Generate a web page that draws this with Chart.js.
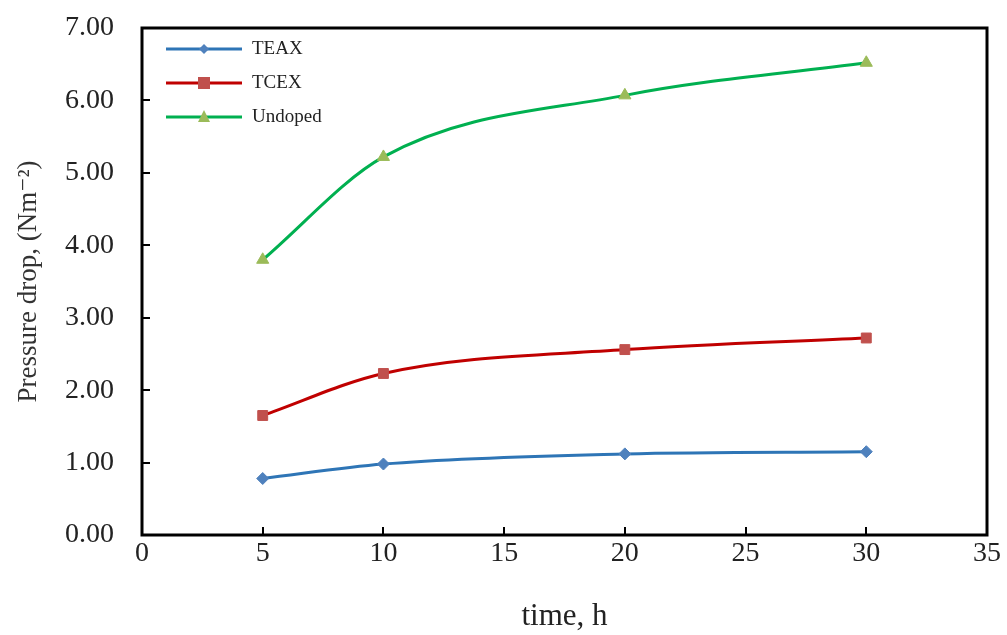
<!DOCTYPE html>
<html>
<head>
<meta charset="utf-8">
<script src="https://cdn.jsdelivr.net/npm/chart.js@4.4.1/dist/chart.umd.min.js"></script>
<style>
  html, body { margin: 0; padding: 0; background: #fff; }
  #wrap { width: 1007px; height: 635px; }
</style>
</head>
<body>
<div id="wrap"><canvas id="chart" width="1007" height="635"></canvas></div>
<script>
// time (h) and pressure drop values
const hours = [5, 10, 20, 30];
const teax = [0.78, 0.98, 1.12, 1.15];
const tcex = [1.65, 2.23, 2.56, 2.72];
const undoped = [3.80, 5.22, 6.07, 6.52];
const yTicks = [0, 1, 2, 3, 4, 5, 6, 7];
const xTicks = [0, 5, 10, 15, 20, 25, 30, 35];

const serif = '"Liberation Serif", "DejaVu Serif", serif';

const toPoints = (ys) => hours.map((h, i) => ({ x: h, y: ys[i] }));

// inward ticks + full box, like the Excel original
const frame = {
    id: 'frame',
    afterDraw(chart) {
        const { ctx, chartArea: a, scales } = chart;
        ctx.save();
        ctx.strokeStyle = '#000';
        ctx.lineWidth = 3;
        ctx.strokeRect(a.left, a.top, a.right - a.left, a.bottom - a.top);
        ctx.lineWidth = 2;
        ctx.beginPath();
        scales.x.ticks.forEach(t => {
            const px = Math.round(scales.x.getPixelForValue(t.value));
            ctx.moveTo(px, a.bottom);
            ctx.lineTo(px, a.bottom - 8);
        });
        scales.y.ticks.forEach(t => {
            const py = Math.round(scales.y.getPixelForValue(t.value));
            ctx.moveTo(a.left, py);
            ctx.lineTo(a.left + 8, py);
        });
        ctx.stroke();
        ctx.restore();
    }
};

// legend drawn inside the plot area, top left
const innerLegend = {
    id: 'innerLegend',
    afterDraw(chart) {
        const { ctx, chartArea: a } = chart;
        const x0 = a.left + 24;
        let y = a.top + 21;
        ctx.save();
        chart.data.datasets.forEach(ds => {
            ctx.strokeStyle = ds.borderColor;
            ctx.lineWidth = 3;
            ctx.beginPath();
            ctx.moveTo(x0, y);
            ctx.lineTo(x0 + 76, y);
            ctx.stroke();
            const cx = x0 + 38;
            ctx.fillStyle = ds.pointBackgroundColor;
            ctx.beginPath();
            if (ds.pointStyle === 'rect') {
                ctx.rect(cx - 6, y - 6, 12, 12);
            } else if (ds.pointStyle === 'triangle') {
                ctx.moveTo(cx, y - 7);
                ctx.lineTo(cx + 6, y + 5);
                ctx.lineTo(cx - 6, y + 5);
                ctx.closePath();
            } else {
                ctx.moveTo(cx, y - 5);
                ctx.lineTo(cx + 5, y);
                ctx.lineTo(cx, y + 5);
                ctx.lineTo(cx - 5, y);
                ctx.closePath();
            }
            ctx.fill();
            ctx.fillStyle = '#222';
            ctx.font = '19px ' + serif;
            ctx.textBaseline = 'middle';
            ctx.fillText(ds.label, x0 + 86, y);
            y += 34;
        });
        ctx.restore();
    }
};

new Chart(document.getElementById('chart').getContext('2d'), {
    type: 'line',
    data: {
        datasets: [
            {
                label: 'TEAX',
                data: toPoints(teax),
                borderColor: '#2E75B6',
                pointBackgroundColor: '#4F81BD',
                pointBorderColor: '#4F81BD',
                pointStyle: 'rectRot',
                pointRadius: 6
            },
            {
                label: 'TCEX',
                data: toPoints(tcex),
                borderColor: '#C00000',
                pointBackgroundColor: '#C0504D',
                pointBorderColor: '#C0504D',
                pointStyle: 'rect',
                pointRadius: 7
            },
            {
                label: 'Undoped',
                data: toPoints(undoped),
                borderColor: '#00B050',
                pointBackgroundColor: '#9BBB59',
                pointBorderColor: '#9BBB59',
                pointStyle: 'triangle',
                pointRadius: 7
            }
        ]
    },
    options: {
        responsive: false,
        animation: false,
        layout: { padding: { top: 28, right: 20, left: 0, bottom: 0 } },
        elements: {
            line: { borderWidth: 3, tension: 0.4, cubicInterpolationMode: 'monotone' },
            point: { borderWidth: 1 }
        },
        scales: {
            x: {
                type: 'linear',
                min: 0,
                max: 35,
                afterBuildTicks: (s) => { s.ticks = xTicks.map(v => ({ value: v })); },
                afterFit: (s) => { s.height = 100; s.paddingLeft = 0; s.paddingRight = 0; },
                grid: { display: false, drawTicks: false },
                border: { display: false },
                ticks: {
                    color: '#222',
                    font: { family: serif, size: 28 },
                    padding: 2
                },
                title: {
                    display: true,
                    text: 'time, h',
                    color: '#222',
                    font: { family: serif, size: 31 },
                    padding: { top: 0, bottom: 0 }
                }
            },
            y: {
                min: 0,
                max: 7,
                afterBuildTicks: (s) => { s.ticks = yTicks.map(v => ({ value: v })); },
                afterFit: (s) => { s.width = 142; s.paddingTop = 0; s.paddingBottom = 0; },
                grid: { display: false, drawTicks: false },
                border: { display: false },
                ticks: {
                    color: '#222',
                    font: { family: serif, size: 28 },
                    padding: 28,
                    callback: (v) => Number(v).toFixed(2)
                },
                title: {
                    display: true,
                    text: 'Pressure drop, (Nm\u207B\u00B2)',
                    color: '#333',
                    font: { family: serif, size: 27 },
                    padding: { top: 13, bottom: 0 }
                }
            }
        },
        plugins: {
            legend: { display: false },
            tooltip: { enabled: false }
        }
    },
    plugins: [frame, innerLegend]
});
</script>
</body>
</html>
